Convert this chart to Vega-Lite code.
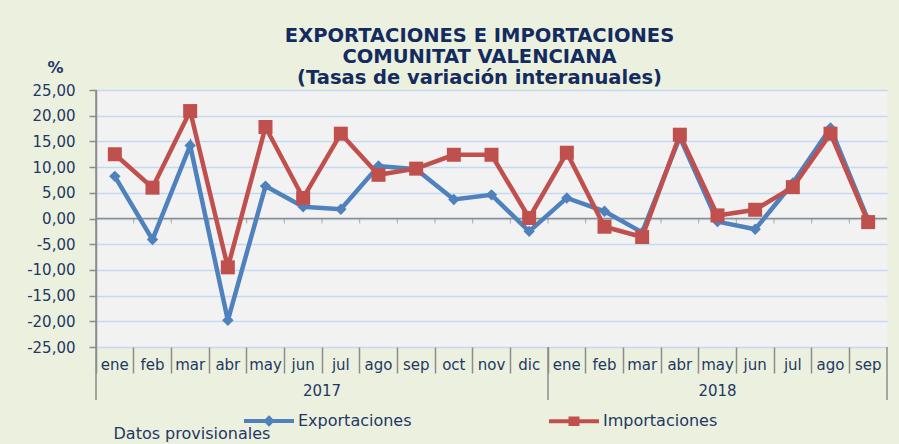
{
  "$schema": "https://vega.github.io/schema/vega-lite/v6.json",
  "width": 791,
  "height": 257,
  "autosize": "none",
  "padding": {"left": 96, "top": 90, "right": 12, "bottom": 97},
  "background": "#EBF1DE",
  "title": {
    "text": ["EXPORTACIONES E IMPORTACIONES", "COMUNITAT VALENCIANA", "(Tasas de variación interanuales)"],
    "frame": "group",
    "anchor": "middle",
    "dx": -12,
    "offset": -29,
    "font": "DejaVu Sans",
    "fontSize": 19.5,
    "fontWeight": "bold",
    "color": "#142B5F",
    "lineHeight": 21
  },
  "data": {
    "values": [
      {"periodo": "ene 2017", "Exportaciones": 8.2, "Importaciones": 12.5},
      {"periodo": "feb 2017", "Exportaciones": -4.1, "Importaciones": 6.0},
      {"periodo": "mar 2017", "Exportaciones": 14.2, "Importaciones": 20.9},
      {"periodo": "abr 2017", "Exportaciones": -19.8, "Importaciones": -9.5},
      {"periodo": "may 2017", "Exportaciones": 6.3, "Importaciones": 17.8},
      {"periodo": "jun 2017", "Exportaciones": 2.3, "Importaciones": 4.0},
      {"periodo": "jul 2017", "Exportaciones": 1.8, "Importaciones": 16.5},
      {"periodo": "ago 2017", "Exportaciones": 10.2, "Importaciones": 8.5},
      {"periodo": "sep 2017", "Exportaciones": 9.6, "Importaciones": 9.7},
      {"periodo": "oct 2017", "Exportaciones": 3.7, "Importaciones": 12.4},
      {"periodo": "nov 2017", "Exportaciones": 4.6, "Importaciones": 12.4},
      {"periodo": "dic 2017", "Exportaciones": -2.5, "Importaciones": 0.1},
      {"periodo": "ene 2018", "Exportaciones": 4.0, "Importaciones": 12.8},
      {"periodo": "feb 2018", "Exportaciones": 1.4, "Importaciones": -1.6},
      {"periodo": "mar 2018", "Exportaciones": -2.7, "Importaciones": -3.6},
      {"periodo": "abr 2018", "Exportaciones": 15.8, "Importaciones": 16.3},
      {"periodo": "may 2018", "Exportaciones": -0.6, "Importaciones": 0.6},
      {"periodo": "jun 2018", "Exportaciones": -2.1, "Importaciones": 1.7},
      {"periodo": "jul 2018", "Exportaciones": 6.9, "Importaciones": 6.1},
      {"periodo": "ago 2018", "Exportaciones": 17.6, "Importaciones": 16.5},
      {"periodo": "sep 2018", "Exportaciones": -0.3, "Importaciones": -0.7}
    ]
  },
  "layer": [
    {
      "mark": {"type": "tick", "orient": "vertical", "color": "#8C8C8C", "thickness": 1, "size": 5},
      "encoding": {
        "x": {
          "field": "periodo", "type": "nominal", "sort": null, "bandPosition": 0,
          "scale": {"type": "band", "paddingInner": 0, "paddingOuter": 0},
          "axis": {
            "title": "Datos provisionales",
            "titleX": 17, "titleY": 91, "titleAlign": "left", "titleAnchor": "start", "titleBaseline": "alphabetic",
            "titleFontWeight": "normal", "titleFontSize": 16, "titleColor": "#1F3864", "titleFont": "DejaVu Sans",
            "labelExpr": "split(datum.label, ' ')[0]",
            "bandPosition": 0,
            "labelAngle": 0, "ticks": true, "tickSize": 26, "tickColor": "#8C8C8C", "tickWidth": 1.5,
            "domain": false, "labelPadding": -4, "labelBaseline": "alphabetic", "labelAlign": "center",
            "labelFontSize": 15, "labelColor": "#1F3864", "labelFont": "DejaVu Sans",
            "labelOverlap": false, "labelBound": false, "labelFlush": false
          }
        },
        "y": {
          "datum": -0.5, "type": "quantitative",
          "scale": {"domain": [-25, 25], "nice": false, "zero": false},
          "axis": {
            "title": "%", "titleAngle": 0, "titleX": -41, "titleY": -18, "titleAlign": "center", "titleBaseline": "alphabetic",
            "titleFontSize": 16, "titleFontWeight": "bold", "titleColor": "#1F3864", "titleFont": "DejaVu Sans",
            "values": [-25, -20, -15, -10, -5, 0, 5, 10, 15, 20, 25],
            "tickCount": 11,
            "labelExpr": "replace(replace(format(datum.value, '.2f'), '.', ','), '\u2212', '-')",
            "labelOverlap": false, "labelBound": false, "labelFlush": false, "labelSeparation": 0,
            "grid": true, "gridColor": "#C6D9F1", "gridWidth": 1.5,
            "domainColor": "#8C8C8C", "domainWidth": 1.5, "tickColor": "#8C8C8C", "tickSize": 7, "tickWidth": 1.5,
            "labelPadding": 14, "labelFontSize": 15, "labelColor": "#1F3864", "labelFont": "DejaVu Sans", "labelBaseline": "middle"
          }
        }
      }
    },
    {
      "mark": {"type": "rule", "color": "#8C8C8C", "strokeWidth": 1.5},
      "data": {"values": [{}]},
      "encoding": {"y": {"datum": 0, "type": "quantitative"}}
    },
    {
      "mark": {"type": "rule", "color": "#8C8C8C", "strokeWidth": 1.5},
      "data": {"values": [{}]},
      "encoding": {
        "x": {"datum": "ene 2017", "type": "nominal", "bandPosition": 0},
        "y": {"datum": 25, "type": "quantitative"},
        "y2": {"datum": -35.3}
      }
    },
    {
      "mark": {"type": "rule", "color": "#8C8C8C", "strokeWidth": 1.5},
      "data": {"values": [{}]},
      "encoding": {
        "x": {"datum": "ene 2018", "type": "nominal", "bandPosition": 0},
        "y": {"datum": -25, "type": "quantitative"},
        "y2": {"datum": -35.3}
      }
    },
    {
      "mark": {"type": "rule", "color": "#8C8C8C", "strokeWidth": 1.5},
      "data": {"values": [{}]},
      "encoding": {
        "x": {"datum": "sep 2018", "type": "nominal", "bandPosition": 1},
        "y": {"datum": -25, "type": "quantitative"},
        "y2": {"datum": -35.3}
      }
    },
    {
      "mark": {"type": "line", "strokeWidth": 4.5, "point": {"shape": "diamond", "size": 130, "filled": true, "opacity": 1}},
      "encoding": {
        "x": {"field": "periodo", "type": "nominal", "sort": null, "bandPosition": 0.5},
        "y": {"field": "Exportaciones", "type": "quantitative"},
        "color": {
          "datum": "Exportaciones",
          "scale": {"domain": ["Exportaciones", "Importaciones"], "range": ["#4F81BD", "#C0504D"]},
          "legend": {
            "orient": "none", "legendX": 146, "legendY": 304, "direction": "horizontal", "title": null,
            "symbolSize": 2500, "labelFont": "DejaVu Sans", "labelFontSize": 16, "labelColor": "#1F3864",
            "labelOffset": 2, "columnPadding": 129, "padding": 0, "symbolStrokeWidth": 4,
            "encode": {
              "symbols": {
                "update": {
                  "shape": {"signal": "datum.value === 'Exportaciones' ? 'M-1,0H1M0,-0.12L0.12,0L0,0.12L-0.12,0Z' : 'M-1,0H1M-0.14,-0.11H0.14V0.11H-0.14Z'"},
                  "fill": {"scale": "color", "field": "value"},
                  "stroke": {"scale": "color", "field": "value"},
                  "strokeWidth": {"value": 4},
                  "opacity": {"value": 1}
                }
              }
            }
          }
        }
      }
    },
    {
      "mark": {"type": "line", "strokeWidth": 4.5, "point": {"shape": "square", "size": 196, "filled": true, "opacity": 1}},
      "encoding": {
        "x": {"field": "periodo", "type": "nominal", "sort": null, "bandPosition": 0.5},
        "y": {"field": "Importaciones", "type": "quantitative"},
        "color": {"datum": "Importaciones"}
      }
    },
    {
      "mark": {"type": "text", "text": "2017", "font": "DejaVu Sans", "fontSize": 15, "color": "#1F3864", "baseline": "alphabetic", "align": "center"},
      "data": {"values": [{}]},
      "encoding": {
        "x": {"datum": "jul 2017", "type": "nominal", "bandPosition": 0},
        "y": {"datum": -34.6, "type": "quantitative"}
      }
    },
    {
      "mark": {"type": "text", "text": "2018", "font": "DejaVu Sans", "fontSize": 15, "color": "#1F3864", "baseline": "alphabetic", "align": "center"},
      "data": {"values": [{}]},
      "encoding": {
        "x": {"datum": "may 2018", "type": "nominal", "bandPosition": 0.5},
        "y": {"datum": -34.6, "type": "quantitative"}
      }
    }
  ],
  "config": {
    "font": "DejaVu Sans",
    "axis": {"labelOverlap": false},
    "view": {"stroke": null, "fill": "#F2F2F2"}
  }
}
